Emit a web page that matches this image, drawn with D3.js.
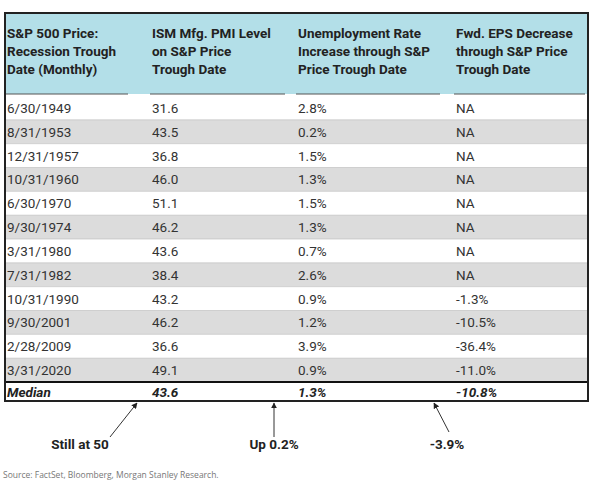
<!DOCTYPE html><html><head><script src="https://cdn.jsdelivr.net/npm/d3@7"></script>
<style>body{margin:0;background:#fff}</style></head><body><svg id="c" width="592" height="485"></svg>
<script>
const headers=[["S&P 500 Price:","Recession Trough","Date (Monthly)"],["ISM Mfg. PMI Level","on S&P Price","Trough Date"],["Unemployment Rate","Increase through S&P","Price Trough Date"],["Fwd. EPS Decrease","through S&P Price","Trough Date"]];
const dates=["6/30/1949","8/31/1953","12/31/1957","10/31/1960","6/30/1970","9/30/1974","3/31/1980","7/31/1982","10/31/1990","9/30/2001","2/28/2009","3/31/2020"];
const pmi=["31.6","43.5","36.8","46.0","51.1","46.2","43.6","38.4","43.2","46.2","36.6","49.1"];
const unemp=["2.8%","0.2%","1.5%","1.3%","1.5%","1.3%","0.7%","2.6%","0.9%","1.2%","3.9%","0.9%"];
const eps=["NA","NA","NA","NA","NA","NA","NA","NA","-1.3%","-10.5%","-36.4%","-11.0%"];
const median=["Median","43.6","1.3%","-10.8%"];
const notes=["Still at 50","Up 0.2%","-3.9%"];
const svg=d3.select("#c"),F="Roboto, sans-serif";
const colX=[7,152,298,456],colEnd=[128,285,440,585];
const y=d3.scaleBand().domain(d3.range(12)).range([96,382]).padding(0);
svg.append("rect").attr("x",5).attr("y",13).attr("width",583).attr("height",81).attr("fill","#b3dfe8");
svg.selectAll(".bg").data(dates).join("rect").attr("x",5).attr("width",583).attr("y",(d,i)=>y(i)).attr("height",y.bandwidth()).attr("fill",(d,i)=>i%2?"#dcdcdc":"#fff");
headers.forEach((h,c)=>{h.forEach((t,k)=>svg.append("text").attr("x",colX[c]).attr("y",38+k*18).attr("font-family",F).attr("font-size",13.5).attr("font-weight","bold").attr("fill","#222").text(t));
svg.append("line").attr("x1",colX[c]-2).attr("x2",colEnd[c]).attr("y1",94).attr("y2",94).attr("stroke","#555").attr("stroke-width",1);});
[dates,pmi,unemp,eps].forEach((col,c)=>svg.selectAll(".t"+c).data(col).join("text").attr("x",colX[c]).attr("y",(d,i)=>y(i)+y.bandwidth()/2+5).attr("font-family",F).attr("font-size",13.5).attr("fill","#333").text(d=>d));
svg.selectAll(".sep").data(d3.range(1,12)).join("line").attr("x1",5).attr("x2",588).attr("y1",d=>y(d)).attr("y2",d=>y(d)).attr("stroke","#bbb").attr("stroke-width",0.6);
svg.append("rect").attr("x",5).attr("y",382).attr("width",583).attr("height",19).attr("fill","#fff").attr("stroke","#111").attr("stroke-width",2);
median.forEach((t,c)=>svg.append("text").attr("x",colX[c]).attr("y",396.5).attr("font-family",F).attr("font-size",13.5).attr("font-style","italic").attr("font-weight","bold").attr("fill","#222").text(t));
svg.append("rect").attr("x",5).attr("y",13).attr("width",583).attr("height",388).attr("fill","none").attr("stroke","#222").attr("stroke-width",2);
const defs=svg.append("defs");defs.append("marker").attr("id","ah").attr("viewBox","0 0 10 10").attr("refX",9).attr("refY",5).attr("markerWidth",6).attr("markerHeight",6).attr("orient","auto").append("path").attr("d","M0,0L10,5L0,10z").attr("fill","#222");
const arrows=[[110,437,137,403],[274,437,274,403],[449,432,434,403]];
arrows.forEach(a=>svg.append("line").attr("x1",a[0]).attr("y1",a[1]).attr("x2",a[2]).attr("y2",a[3]).attr("stroke","#333").attr("stroke-width",1).attr("marker-end","url(#ah)"));
[80,274,447].forEach((x,i)=>svg.append("text").attr("x",x).attr("y",449).attr("text-anchor","middle").attr("font-family",F).attr("font-size",13.5).attr("font-weight","bold").attr("fill","#222").text(notes[i]));
svg.append("text").attr("x",3).attr("y",478).attr("font-family","'Open Sans', sans-serif").attr("font-size",8.5).attr("fill","#777").text("Source: FactSet, Bloomberg, Morgan Stanley Research.");
</script></body></html>
